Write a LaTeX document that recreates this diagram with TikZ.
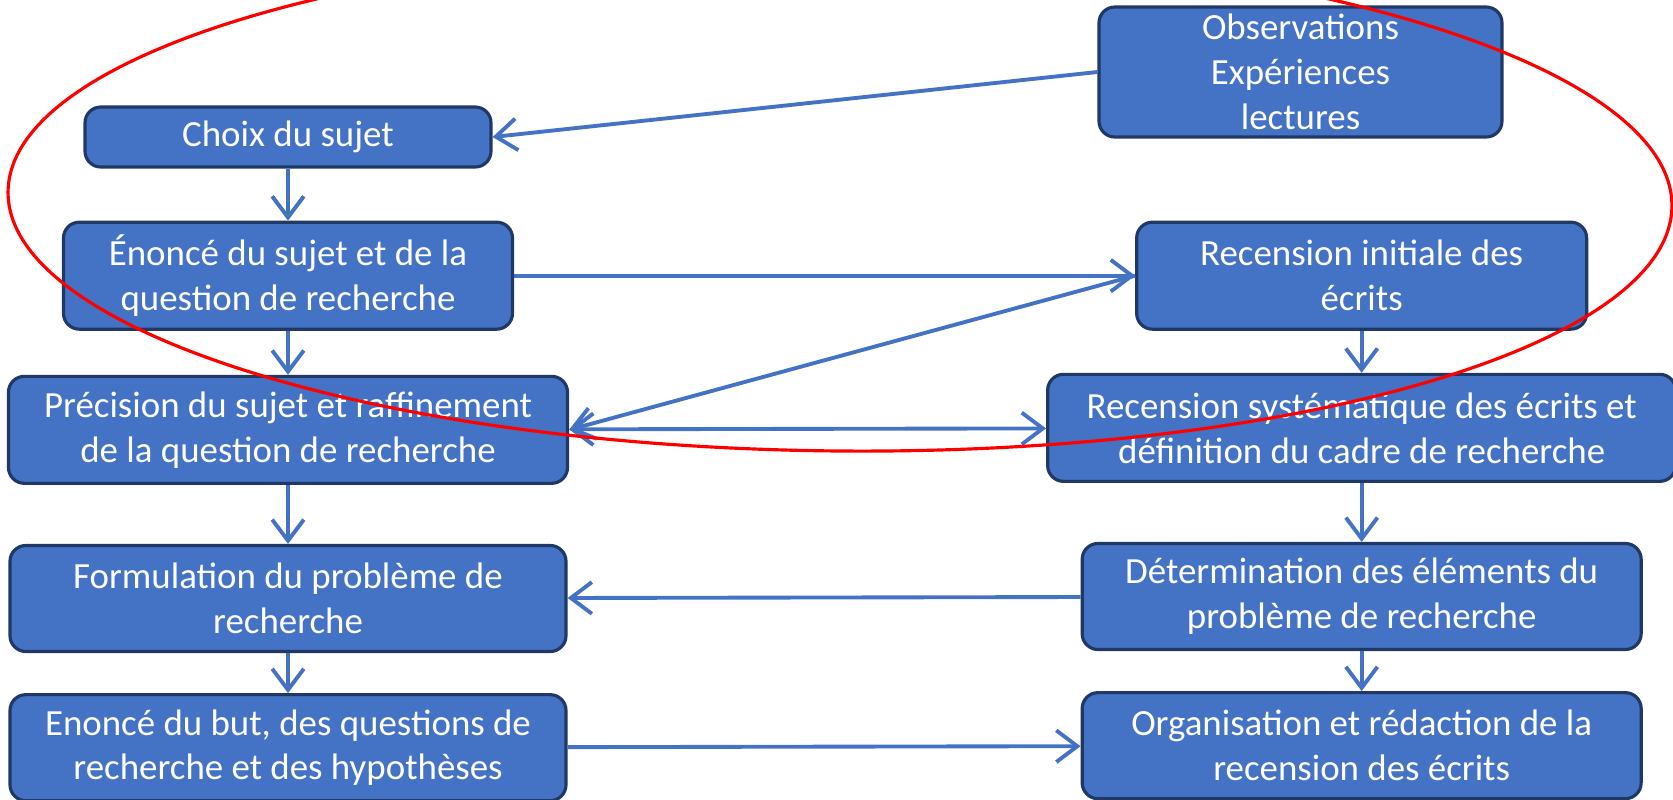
\documentclass[tikz,border=0pt]{standalone}
\usepackage{fontspec}
\setmainfont{Carlito}
\usetikzlibrary{positioning, arrows.meta}

\definecolor{boxblue}{HTML}{4472C4}
\definecolor{boxedge}{HTML}{203864}

\begin{document}
\begin{tikzpicture}[>={Straight Barb[length=6pt, width=9pt]}, node distance = 0.5cm,
    bloc/.style = {draw = boxedge, line width = 0.9pt, fill = boxblue, rounded corners = 4.5pt,
      text = white, align = center, inner sep = 0pt, font = \fontsize{10.5}{12.8}\selectfont}]
    \useasboundingbox (0,0) rectangle (16.73,-7.99);

    % left column
    \node[bloc, minimum width = 4.06cm, minimum height = 0.60cm] (choix) at (2.88,-1.37) {Choix du sujet};
    \node[bloc, minimum width = 4.49cm, minimum height = 1.07cm] (enonce) [below = 0.52cm of choix] {Énoncé du sujet et de la\\question de recherche};
    \node[bloc, minimum width = 5.59cm, minimum height = 1.07cm] (precision) [below = 0.44cm of enonce] {Précision du sujet et raffinement\\de la question de recherche};
    \node[bloc, minimum width = 5.56cm, minimum height = 1.06cm] (formulation) [below = 0.59cm of precision] {Formulation du problème de\\recherche};
    \node[bloc, minimum width = 5.56cm, minimum height = 1.06cm] (but) [below = 0.40cm of formulation] {Enoncé du but, des questions de\\recherche et des hypothèses};

    % right column
    \node[bloc, minimum width = 4.03cm, minimum height = 1.30cm] (obs) at (13.005,-0.72) {Observations\\Expériences\\lectures};
    \node[bloc, minimum width = 4.50cm, minimum height = 1.07cm] (initiale) [right = 6.21cm of enonce] {Recension initiale des\\écrits};
    \node[bloc, minimum width = 6.28cm, minimum height = 1.07cm] (systematique) [below = 0.42cm of initiale] {Recension systématique des écrits et\\définition du cadre de recherche};
    \node[bloc, minimum width = 5.59cm, minimum height = 1.06cm] (determination) [below = 0.59cm of systematique] {Détermination des éléments du\\problème de recherche};
    \node[bloc, minimum width = 5.59cm, minimum height = 1.06cm] (organisation) [below = 0.40cm of determination] {Organisation et rédaction de la\\recension des écrits};

    \path[->, color = boxblue, line width = 1.1pt]
      (obs.west) edge (choix.east)
      (choix) edge (enonce)
      (enonce.east) edge (initiale.west)
      (initiale.west) edge (precision.east)
      (enonce) edge (precision)
      (precision) edge [<->] (systematique)
      (initiale) edge (systematique)
      (precision) edge (formulation)
      (systematique) edge (determination)
      (determination) edge (formulation)
      (formulation) edge (but)
      (determination) edge (organisation)
      (but) edge (organisation)
    ;

    % red loop round the first steps
    \begin{scope}
      \clip (0,0) rectangle (16.73,-7.99);
      \draw[red, line width = 0.9pt, rotate around = {-0.5:(8.40,-1.99)}] (8.40,-1.99) ellipse [x radius = 8.32, y radius = 2.52];
    \end{scope}
  \end{tikzpicture}
\end{document}
